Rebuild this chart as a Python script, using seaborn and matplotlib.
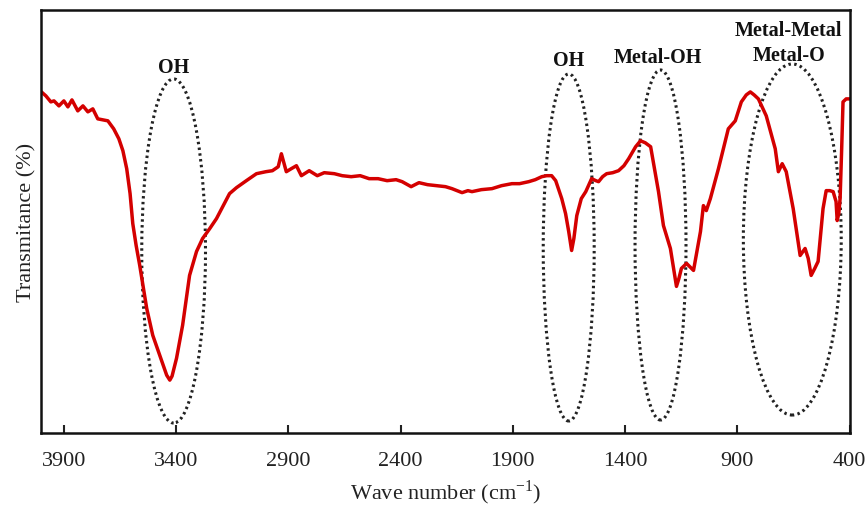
import numpy as np
import pandas as pd
import matplotlib
matplotlib.use("Agg")
import matplotlib.pyplot as plt
from matplotlib.patches import Ellipse
import seaborn as sns

# ---- data (transmittance in arbitrary units) ----
wavenumber = [4000, 3980, 3958, 3944, 3922, 3900, 3882, 3864, 3838, 3815, 3793, 3771,
              3749, 3704, 3678, 3655, 3637, 3620, 3605, 3593, 3578, 3562, 3531, 3504,
              3464, 3442, 3428, 3418, 3398, 3371, 3340, 3309, 3282, 3250, 3220, 3190,
              3162, 3131, 3087, 3042, 3000, 2971, 2945, 2931, 2909, 2887, 2864, 2842,
              2807, 2771, 2740, 2695, 2660, 2620, 2580, 2540, 2500, 2460, 2420, 2393,
              2353, 2318, 2280, 2242, 2200, 2171, 2126, 2100, 2082, 2040, 1993, 1950,
              1904, 1870, 1829, 1800, 1771, 1749, 1727, 1709, 1682, 1665, 1651, 1638,
              1628, 1615, 1595, 1575, 1549, 1530, 1518, 1500, 1482, 1455, 1429, 1405,
              1384, 1353, 1331, 1310, 1286, 1251, 1229, 1198, 1185, 1171, 1160, 1149,
              1126, 1095, 1064, 1051, 1038, 1020, 984, 940, 909, 882, 860, 842,
              825, 806, 771, 731, 717, 700, 682, 651, 620, 598, 584, 571,
              555, 540, 518, 504, 488, 473, 460, 455, 448, 442, 435, 429,
              415, 400]
transmittance = [342, 338, 332, 333, 328, 333, 327, 334, 323, 328, 322, 325,
                 315, 313, 305, 295, 283, 265, 240, 210, 188, 168, 125, 98,
                 72, 58, 53, 57, 75, 108, 158, 182, 195, 205, 215, 228,
                 240, 246, 253, 260, 262, 263, 267, 280, 262, 265, 268, 258,
                 263, 258, 261, 260, 258, 257, 258, 255, 255, 253, 254, 252,
                 247, 251, 249, 248, 247, 245, 241, 243, 242, 244, 245, 248,
                 250, 250, 252, 254, 257, 258, 258, 253, 235, 220, 202, 183,
                 195, 218, 235, 242, 255, 253, 252, 257, 260, 261, 263, 268,
                 275, 287, 293, 291, 287, 242, 208, 185, 167, 147, 155, 165,
                 170, 163, 202, 228, 223, 235, 265, 305, 313, 332, 339, 342,
                 339, 335, 318, 285, 262, 270, 262, 225, 178, 185, 175, 158,
                 165, 172, 225, 243, 243, 242, 232, 213, 220, 235, 285, 332,
                 335, 335]

tick_values = [3900, 3400, 2900, 2400, 1900, 1400, 900, 400]
band_labels = ["OH", "OH", "Metal-OH", "Metal-Metal", "Metal-O"]

df = pd.DataFrame({"wn": wavenumber, "T": transmittance})

sns.set_theme(style="white")
plt.rcParams["font.family"] = ["Liberation Serif", "DejaVu Serif"]
plt.rcParams["mathtext.fontset"] = "custom"
plt.rcParams["mathtext.rm"] = "Liberation Serif"

fig = plt.figure(figsize=(8.66, 5.06), dpi=100)
ax = fig.add_axes([0.0473, 0.1423, 0.9342, 0.8357])

sns.lineplot(data=df, x="wn", y="T", sort=False, ax=ax, color="#d40000",
             linewidth=2.5, estimator=None)

ax.set_xlim(4002, 398)
ax.set_ylim(0, 424)

# dotted ellipses around the bands
ellipses = [(3411, 182.5, 284, 345), (1651, 186, 227, 348),
            (1242, 188.5, 227, 351), (655, 194, 436, 352)]
for cx, cy, w, h in ellipses:
    ax.add_patch(Ellipse((cx, cy), w, h, fill=False, edgecolor="#222222",
                         linewidth=2.2, linestyle=(0, (0.8, 1.1))))

label_pos = [(3411, 367), (1651, 374), (1256, 377), (673, 404), (669, 379)]
for txt, (x, y) in zip(band_labels, label_pos):
    ax.text(x, y, txt, ha="center", va="center", fontsize=14.5,
            fontweight="bold", color="#111111")

ax.set_xticks(tick_values)
ax.set_xticklabels([str(v) for v in tick_values])
ax.set_yticks([])
ax.tick_params(axis="x", direction="in", length=6, width=1.5, pad=13,
               labelsize=16, bottom=True, colors="#222222")
for s in ax.spines.values():
    s.set_visible(True)
    s.set_linewidth(1.8)
    s.set_color("#111111")

ax.set_xlabel("Wave number (cm$^{-1}$)", fontsize=16, labelpad=5, color="#222222")
ax.set_ylabel("Transmitance (%)", fontsize=16, labelpad=3, color="#222222")
leg = ax.get_legend()
if leg is not None:
    leg.remove()

fig.savefig("out.png", dpi=100)
